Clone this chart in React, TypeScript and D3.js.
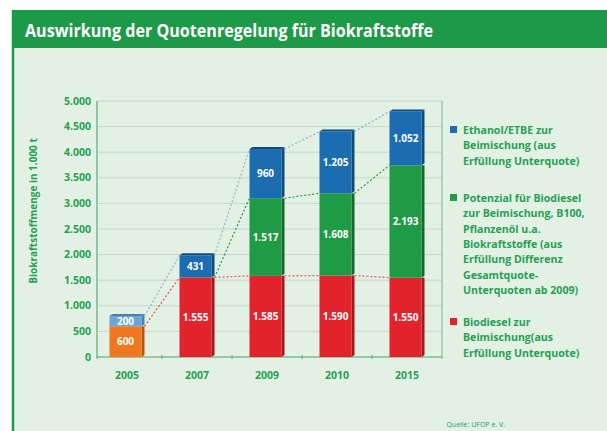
import React from "react";
import * as d3 from "d3";

const years = ["2005", "2007", "2009", "2010", "2015"];
const biodiesel = [600, 1555, 1585, 1590, 1550];
const potenzial = [0, 0, 1517, 1608, 2193];
const ethanol = [200, 431, 960, 1205, 1052];
const yTicks = [0, 500, 1000, 1500, 2000, 2500, 3000, 3500, 4000, 4500, 5000];
const title = "Auswirkung der Quotenregelung für Biokraftstoffe";
const yLabel = "Biokraftstoffmenge in 1.000 t";
const legendItems = [
  { key: "ethanol", lines: ["Ethanol/ETBE zur", "Beimischung (aus", "Erfüllung Unterquote)"] },
  {
    key: "potenzial",
    lines: [
      "Potenzial für Biodiesel",
      "zur Beimischung, B100,",
      "Pflanzenöl u.a.",
      "Biokraftstoffe (aus",
      "Erfüllung Differenz",
      "Gesamtquote-",
      "Unterquoten ab 2009)",
    ],
  },
  { key: "biodiesel", lines: ["Biodiesel zur", "Beimischung(aus", "Erfüllung Unterquote)"] },
];
const source = "Quelle: UFOP e. V.";

const COLORS: Record<string, { front: string; side: string }> = {
  biodiesel: { front: "#e3232c", side: "#a8161c" },
  potenzial: { front: "#1f9a45", side: "#13692e" },
  ethanol: { front: "#1b6cb0", side: "#0f4a7d" },
  orange: { front: "#f0761f", side: "#b95510" },
  lightblue: { front: "#6aa6d8", side: "#4a80ad" },
};
const GREEN_TEXT = "#26a052";
const FONT = "'Open Sans', 'DejaVu Sans', sans-serif";

const fmt = d3
  .formatLocale({ decimal: ",", thousands: ".", grouping: [3], currency: ["", "€"] })
  .format(",");

export default function App() {
  const W = 607;
  const H = 431;
  const x = d3.scaleBand<string>().domain(years).range([92, 442]).paddingInner(0.5).paddingOuter(0.25);
  const y = d3.scaleLinear().domain([0, 5000]).range([357, 101]);
  const bw = x.bandwidth();
  const depth = 3;
  const front = bw - depth;

  const series = [
    { key: "biodiesel", values: biodiesel },
    { key: "potenzial", values: potenzial },
    { key: "ethanol", values: ethanol },
  ];

  const segs: any[] = [];
  years.forEach((yr, i) => {
    let base = 0;
    series.forEach((s) => {
      const v = s.values[i];
      if (v <= 0) return;
      let ckey = s.key;
      if (i === 0) ckey = s.key === "biodiesel" ? "orange" : "lightblue";
      segs.push({ yr, i, key: s.key, ckey, v, y0: base, y1: base + v });
      base += v;
    });
  });

  const totals = years.map((_, i) => biodiesel[i] + potenzial[i] + ethanol[i]);
  const greenTops = years.map((_, i) => biodiesel[i] + potenzial[i]);

  const connector = (vals: number[], startIdx: number, color: string) => {
    const out: any[] = [];
    for (let i = startIdx; i < years.length - 1; i++) {
      const x1 = (x(years[i]) as number) + bw;
      const x2 = x(years[i + 1]) as number;
      out.push(
        <line
          key={color + i}
          x1={x1}
          y1={y(vals[i])}
          x2={x2}
          y2={y(vals[i + 1])}
          stroke={color}
          strokeWidth={1.3}
          strokeDasharray="2,2"
        />
      );
    }
    return out;
  };

  const greenConn = [0, biodiesel[1], ...greenTops.slice(2)];

  return (
    <svg width={W} height={H} style={{ position: "absolute", left: 0, top: 0 }} fontFamily={FONT}>
      <rect x={0} y={0} width={W} height={H} fill="#ffffff" />
      <rect x={12} y={48} width={W - 12} height={H - 48} fill="#e3f1e5" />
      <rect x={12} y={10} width={W - 12} height={38} fill="#1c9a48" />
      <line x1={13} y1={10} x2={13} y2={H} stroke="#1c9a48" strokeWidth={2.5} />
      <text
        x={25}
        y={37}
        fill="#ffffff"
        fontSize={18}
        fontWeight={700}
        textLength={408}
        lengthAdjust="spacingAndGlyphs"
      >
        {title}
      </text>

      {yTicks.map((t) => (
        <line key={"g" + t} x1={97} x2={442} y1={y(t)} y2={y(t)} stroke="#c3d6c6" strokeWidth={1} />
      ))}
      <line x1={97} x2={97} y1={y(5000)} y2={y(0) + 2} stroke="#5fae7a" strokeWidth={1.2} />
      <line x1={442} x2={442} y1={y(5000)} y2={y(0) + 2} stroke="#8cc09c" strokeWidth={1.2} />
      <line x1={97} x2={442} y1={y(0)} y2={y(0)} stroke="#5fae7a" strokeWidth={1.2} />
      {years.slice(0, -1).map((yr) => {
        const tx = (x(yr) as number) + bw + (x.step() - bw) / 2;
        return <line key={"t" + yr} x1={tx} x2={tx} y1={y(0) - 2} y2={y(0) + 2} stroke="#5fae7a" />;
      })}

      {yTicks.map((t) => (
        <text
          key={"yl" + t}
          x={91}
          y={y(t)}
          dy="0.35em"
          textAnchor="end"
          fill={GREEN_TEXT}
          fontSize={10.5}
          fontWeight={700}
        >
          {fmt(t)}
        </text>
      ))}
      <text
        transform={`translate(37,${y(2500) - 18}) rotate(-90)`}
        textAnchor="middle"
        fill={GREEN_TEXT}
        fontSize={10}
        fontWeight={700}
      >
        {yLabel}
      </text>

      {segs.map((s) => {
        const bx = x(s.yr) as number;
        const yt = y(s.y1);
        const yb = y(s.y0);
        const c = COLORS[s.ckey];
        const isTop = s.y1 === totals[s.i];
        return (
          <g key={s.yr + s.key}>
            <polygon
              points={`${bx + front},${yt} ${bx + front + depth},${yt - (isTop ? 2 : 0)} ${bx + front + depth},${yb - 2} ${bx + front},${yb}`}
              fill={c.side}
            />
            <rect x={bx} y={yt} width={front} height={yb - yt} fill={c.front} />
            {isTop && (
              <polygon
                points={`${bx},${yt} ${bx + depth},${yt - 2} ${bx + front + depth},${yt - 2} ${bx + front},${yt}`}
                fill={c.side}
              />
            )}
          </g>
        );
      })}

      {connector(totals, 0, "#9fb4c6")}
      {connector(greenConn, 1, "#3a9a5a")}
      {connector(biodiesel, 0, "#e06068")}

      {segs.map((s) => {
        const bx = x(s.yr) as number;
        const cy = (y(s.y0) + y(s.y1)) / 2;
        return (
          <text
            key={"lb" + s.yr + s.key}
            x={bx + front / 2}
            y={cy}
            dy="0.35em"
            textAnchor="middle"
            fill="#ffffff"
            fontSize={10}
            fontWeight={700}
          >
            {fmt(s.v)}
          </text>
        );
      })}

      {years.map((yr) => (
        <text
          key={"xl" + yr}
          x={(x(yr) as number) + bw / 2}
          y={379}
          textAnchor="middle"
          fill={GREEN_TEXT}
          fontSize={10.5}
          fontWeight={700}
        >
          {yr}
        </text>
      ))}

      {legendItems.map((item, k) => {
        const starts = [134, 202, 326];
        const y0 = starts[k];
        return (
          <g key={item.key}>
            <rect x={450} y={y0 - 8} width={7} height={7} fill={COLORS[item.key].front} />
            {item.lines.map((ln, j) => (
              <text
                key={j}
                x={463}
                y={y0 + j * 15.3}
                fill={GREEN_TEXT}
                fontSize={10.6}
                fontWeight={700}
              >
                {ln}
              </text>
            ))}
          </g>
        );
      })}

      <text x={505} y={427} textAnchor="end" fill={GREEN_TEXT} fontSize={7}>
        {source}
      </text>
    </svg>
  );
}
